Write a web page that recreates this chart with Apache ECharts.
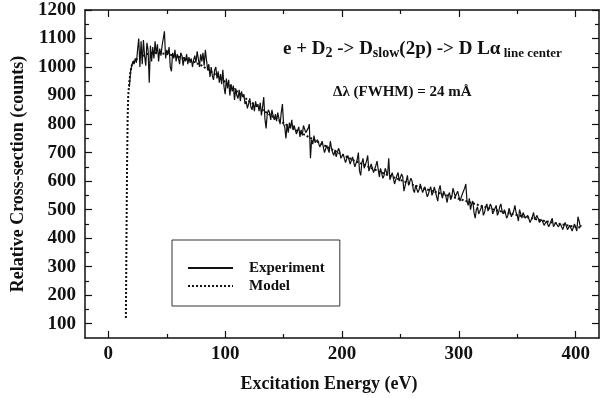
<!DOCTYPE html>
<html>
<head>
<meta charset="utf-8">
<script src="https://cdn.jsdelivr.net/npm/echarts@6/dist/echarts.min.js"></script>
<style>
html,body{margin:0;padding:0;background:#fff;}
#chart{width:602px;height:398px;}
</style>
</head>
<body>
<div id="chart"></div>
<script>
// ---- data ----
const expEnergy = [
18,19,20,21,22,23,24,25,26,27,28,29,30,31,32,33,34,35,36,37,38,39,40,41,42,43,44,45,46,47,
48,49,50,51,52,53,54,55,56,57,58,59,60,61,62,63,64,65,66,67,68,69,70,71,72,73,74,75,76,77,
78,79,80,81,82,83,84,85,86,87,88,89,90,91,92,93,94,95,96,97,98,99,100,101,102,103,104,105,106,107,
108,109,110,111,112,113,114,115,116,117,118,119,120,121,122,123,124,125,126,127,128,129,130,131,132,133,134,135,136,137,
138,139,140,141,142,143,144,145,146,147,148,149,150,151,152,153,154,155,156,157,158,159,160,161,162,163,164,165,166,167,
168,169,170,171,172,173,174,175,176,177,178,179,180,181,182,183,184,185,186,187,188,189,190,191,192,193,194,195,196,197,
198,199,200,201,202,203,204,205,206,207,208,209,210,211,212,213,214,215,216,217,218,219,220,221,222,223,224,225,226,227,
228,229,230,231,232,233,234,235,236,237,238,239,240,241,242,243,244,245,246,247,248,249,250,251,252,253,254,255,256,257,
258,259,260,261,262,263,264,265,266,267,268,269,270,271,272,273,274,275,276,277,278,279,280,281,282,283,284,285,286,287,
288,289,290,291,292,293,294,295,296,297,298,299,300,301,302,303,304,305,306,307,308,309,310,311,312,313,314,315,316,317,
318,319,320,321,322,323,324,325,326,327,328,329,330,331,332,333,334,335,336,337,338,339,340,341,342,343,344,345,346,347,
348,349,350,351,352,353,354,355,356,357,358,359,360,361,362,363,364,365,366,367,368,369,370,371,372,373,374,375,376,377,
378,379,380,381,382,383,384,385,386,387,388,389,390,391,392,393,394,395,396,397,398,399,400,401,402,403,404,405];
const expCounts = [
930,985,1005,1020,1010,1030,1015,1060,1100,1000, 1090,1010,1095,1040,1005,1085,1060,945,1075,1020,
1070,1030,1090,1045,1080,1020,1065,1040,1075,1100, 1125,1030,1060,1045,1070,1000,985,1050,1030,1060,
1020,1045,1030,1010,1050,1040,1005,1035,1020,1045, 1010,1035,1015,1030,1000,1025,1040,1015,1055,1030,
1000,1045,1020,1050,1005,1060,1025,990,1010,965, 1000,970,955,990,1000,960,985,945,975,940,
990,930,905,960,925,955,900,940,915,935, 885,925,900,890,920,880,915,895,905,870,
880,855,870,890,860,850,875,845,880,860, 870,845,875,830,860,895,820,785,835,850,
840,815,850,830,815,835,810,840,820,800, 840,870,800,790,750,800,770,805,785,815,
780,795,800,765,770,790,755,780,760,795, 795,770,765,785,800,680,745,730,760,735,
730,745,750,720,715,740,735,700,705,725, 725,700,740,715,700,690,710,685,690,715,
705,680,680,695,700,665,670,690,690,660, 660,685,680,650,655,675,700,635,620,665,
680,645,650,670,690,635,640,660,665,630, 625,655,670,640,615,645,640,610,620,645,
650,620,680,605,600,630,625,590,595,620, 630,600,600,625,615,565,560,600,620,585,
580,610,600,570,560,585,590,560,570,590, 585,560,560,580,575,545,555,570,580,550,
560,580,575,545,530,570,585,555,540,565, 570,545,525,550,560,535,545,575,570,545,
540,565,560,530,535,555,560,575,590,530, 515,540,500,520,530,490,470,500,510,485,
480,505,515,480,490,510,520,495,500,520, 510,485,480,505,515,480,490,510,520,495,
485,500,505,470,480,505,500,475,475,495, 515,490,480,460,500,485,470,490,495,470,
465,480,485,455,455,475,490,465,460,480, 475,455,450,465,470,445,440,460,465,440,
445,460,470,440,435,455,460,440,440,450, 455,430,430,455,460,430,425,445,450,425,
430,450,445,425,475,460,440,445];
const modelEnergy = [15,15.5,16,16.5,17,18,19,20,22,25,30,35,40,50,60,70,80,90,100,110,120,130,140,150,160,170,180,190,200,210,220,230,240,250,260,270,280,290,300,310,320,330,340,350,360,370,380,390,400,405];
const modelCounts = [120,400,650,820,900,950,985,1005,1020,1030,1040,1048,1050,1046,1036,1024,1005,978,948,915,882,855,828,803,780,758,736,714,693,673,655,637,620,604,588,574,562,550,538,525,512,500,490,481,472,463,455,447,440,437];
const xMajorTicks = [0,100,200,300,400];
const xMinorTicks = [50,150,250,350];
const yMajorTicks = [100,200,300,400,500,600,700,800,900,1000,1100,1200];
const yMinorTicks = [150,250,350,450,550,650,750,850,950,1050,1150];
const seriesNames = ['Experiment','Model'];

// ---- build ----
const FONT = '"Liberation Serif","Times New Roman",serif';
const INK = '#111';
const X_MIN = -20, X_MAX = 420, Y_MIN = 50, Y_MAX = 1200;
const expData = expEnergy.map((e,i)=>[e, expCounts[i]]);
const modelData = modelEnergy.map((e,i)=>[e, modelCounts[i]]);
const plain = v => String(Math.round(v));

function xAx(pos, ticks, len, showLine, showLabel, extra){
  return Object.assign({
    type:'value', min:X_MIN, max:X_MAX, position:pos,
    axisLine:{show:showLine, onZero:false, lineStyle:{color:INK,width:1.5}},
    axisTick:{show:true, inside:true, length:len, customValues:ticks, lineStyle:{color:INK,width:1.2}},
    axisLabel:{show:showLabel, customValues:ticks, formatter:plain, margin:7, color:INK, fontFamily:FONT, fontWeight:'bold', fontSize:19},
    splitLine:{show:false}
  }, extra||{});
}
function yAx(pos, ticks, len, showLine, showLabel, extra){
  return Object.assign({
    type:'value', min:Y_MIN, max:Y_MAX, position:pos,
    axisLine:{show:showLine, onZero:false, lineStyle:{color:INK,width:1.5}},
    axisTick:{show:true, inside:true, length:len, customValues:ticks, lineStyle:{color:INK,width:1.2}},
    axisLabel:{show:showLabel, customValues:ticks, formatter:plain, margin:9, color:INK, fontFamily:FONT, fontWeight:'bold', fontSize:19},
    splitLine:{show:false}
  }, extra||{});
}

const chart = echarts.init(document.getElementById('chart'), null, {renderer:'canvas'});
chart.setOption({
  animation:false,
  backgroundColor:'#fff',
  grid:{left:85, right:3, top:10, bottom:55, containLabel:false},
  xAxis:[
    xAx('bottom', xMajorTicks, 7, true, true, {
      name:'Excitation Energy (eV)', nameLocation:'middle', nameGap:37,
      nameTextStyle:{color:INK, fontFamily:FONT, fontWeight:'bold', fontSize:18, padding:[0,26,0,0]}
    }),
    xAx('bottom', xMinorTicks, 4, false, false),
    xAx('top', xMajorTicks, 7, true, false),
    xAx('top', xMinorTicks, 4, false, false)
  ],
  yAxis:[
    yAx('left', yMajorTicks, 7, true, true, {
      name:'Relative Cross-section (counts)', nameLocation:'middle', nameGap:53, nameRotate:90,
      nameTextStyle:{color:INK, fontFamily:FONT, fontWeight:'bold', fontSize:18}
    }),
    yAx('left', yMinorTicks, 4, false, false),
    yAx('right', yMajorTicks, 7, true, false),
    yAx('right', yMinorTicks, 4, false, false)
  ],
  legend:{
    orient:'vertical', left:172, top:240, padding:[20,15,12,15],
    itemWidth:45, itemHeight:14, itemGap:2,
    borderColor:'#333', borderWidth:1,
    data:seriesNames,
    itemStyle:{opacity:0},
    textStyle:{color:INK, fontFamily:FONT, fontWeight:'bold', fontSize:15, lineHeight:16, padding:[0,0,0,11]}
  },
  graphic:[
    {type:'text', left:283, top:40, silent:true, style:{
      text:'{m|e + D}{s|2}{m| -> D}{s|slow}{m|(2p) -> D L\u03B1}{l| line center}',
      fill:INK,
      rich:{
        m:{fontFamily:FONT, fontWeight:'bold', fontSize:19, lineHeight:22, verticalAlign:'middle', fill:INK},
        s:{fontFamily:FONT, fontWeight:'bold', fontSize:14, lineHeight:12, verticalAlign:'bottom', fill:INK},
        l:{fontFamily:FONT, fontWeight:'bold', fontSize:13, lineHeight:19, verticalAlign:'bottom', fill:INK}
      }
    }},
    {type:'text', left:333, top:85, silent:true, style:{
      text:'\u0394\u03BB (FWHM) = 24 m\u00C5',
      fill:INK, fontFamily:FONT, fontWeight:'bold', fontSize:15
    }}
  ],
  series:[
    {name:seriesNames[0], type:'line', xAxisIndex:0, yAxisIndex:0, data:expData, symbol:'none', z:3,
      lineStyle:{color:INK, width:1.2}, itemStyle:{color:INK}},
    {name:seriesNames[1], type:'line', xAxisIndex:0, yAxisIndex:0, data:modelData, symbol:'none', z:2,
      lineStyle:{color:INK, width:2, type:[2,2]}, itemStyle:{color:INK}}
  ]
});
</script>
</body>
</html>
